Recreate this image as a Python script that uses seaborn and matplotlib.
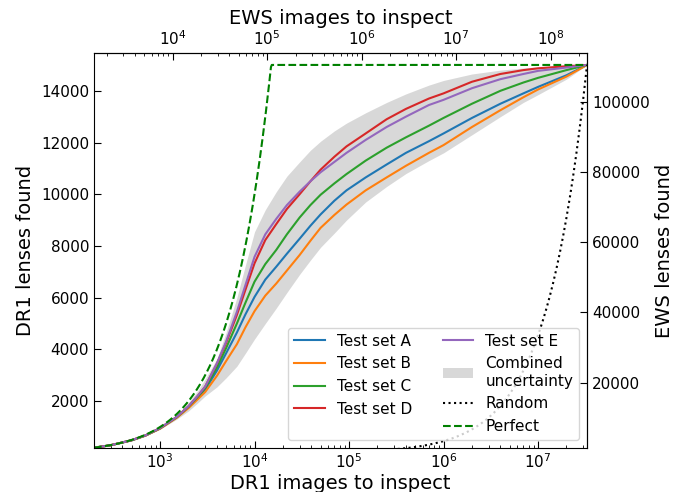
import numpy as np
import pandas as pd
import matplotlib
matplotlib.use("Agg")
import matplotlib.pyplot as plt
import seaborn as sns
from matplotlib.patches import Patch
from matplotlib.lines import Line2D

# Number of DR1 images inspected (ranked by classifier score)
images = [200, 300, 500, 700, 1000, 1500, 2000, 2500, 3000, 4000, 5000, 6500,
          8000, 1e4, 1.3e4, 1.7e4, 2.2e4, 3e4, 3.9e4, 5e4, 7e4, 9.4e4, 1.5e5,
          2.5e5, 4e5, 7e5, 1e6, 2e6, 4e6, 7e6, 1e7, 2e7, 3.3e7]

# Cumulative DR1 lenses found for each test set
set_a = [200, 295, 485, 670, 945, 1370, 1765, 2130, 2440, 3180, 3850, 4650,
         5350, 6030, 6700, 7200, 7700, 8280, 8780, 9220, 9750, 10150, 10650,
         11150, 11600, 12050, 12350, 12950, 13500, 13900, 14150, 14600, 15000]
set_b = [200, 295, 485, 665, 935, 1355, 1730, 2070, 2350, 2980, 3550, 4200,
         4850, 5480, 6080, 6550, 7050, 7650, 8200, 8700, 9200, 9600, 10150,
         10650, 11100, 11600, 11900, 12600, 13250, 13750, 14050, 14550, 15000]
set_c = [200, 295, 485, 670, 950, 1380, 1780, 2165, 2500, 3300, 4050, 5000,
         5800, 6620, 7300, 7850, 8450, 9100, 9580, 9980, 10420, 10780, 11300,
         11800, 12200, 12650, 12950, 13500, 14000, 14320, 14500, 14800, 15000]
set_d = [200, 295, 490, 675, 960, 1390, 1800, 2200, 2560, 3450, 4250, 5330,
         6300, 7330, 8230, 8850, 9430, 10000, 10500, 10950, 11450, 11850, 12350,
         12900, 13300, 13700, 13900, 14350, 14650, 14800, 14870, 14950, 15000]
set_e = [200, 295, 490, 675, 960, 1390, 1800, 2200, 2560, 3460, 4300, 5450,
         6480, 7580, 8450, 9050, 9580, 10100, 10500, 10850, 11250, 11600, 12100,
         12600, 13000, 13450, 13650, 14100, 14450, 14650, 14770, 14900, 15000]

# Envelope of the combined uncertainty
band_hi = [205, 305, 495, 690, 990, 1450, 1950, 2400, 2850, 3650, 4650, 6000,
           7250, 8550, 9400, 10100, 10700, 11250, 11700, 12050, 12450, 12750,
           13150, 13550, 13880, 14220, 14400, 14650, 14800, 14880, 14920, 14980,
           15000]
band_lo = [195, 290, 475, 650, 910, 1300, 1620, 1930, 2200, 2550, 2900, 3350,
           3850, 4400, 5000, 5600, 6200, 6900, 7450, 7950, 8500, 9000, 9700,
           10300, 10800, 11300, 11600, 12300, 13000, 13550, 13850, 14450, 15000]

set_names = ["Test set A", "Test set B", "Test set C", "Test set D", "Test set E"]
set_values = [set_a, set_b, set_c, set_d, set_e]
set_colors = ["#1f77b4", "#ff7f0e", "#2ca02c", "#d62728", "#9467bd"]

N_LENSES = 15000          # lenses in DR1
N_IMAGES = 3.3e7          # images in DR1
EWS_SCALE = 14000 / 1900  # EWS / DR1 area ratio

df = pd.DataFrame({
    "images": np.tile(images, len(set_names)),
    "lenses": np.concatenate(set_values),
    "set": np.repeat(set_names, len(images)),
})

fig = plt.figure(figsize=(6.82, 4.92), dpi=100)
ax = fig.add_axes([94 / 682, 1 - 447.7 / 492, (587 - 94) / 682, (447.7 - 53.3) / 492])

ax.fill_between(images, band_lo, band_hi, color="gray", alpha=0.3, linewidth=0)
sns.lineplot(data=df, x="images", y="lenses", hue="set", hue_order=set_names,
             palette=set_colors, estimator=None, linewidth=1.5, legend=False, ax=ax)

# Reference curves: random ordering and a perfect classifier
x_ref = np.geomspace(200, N_IMAGES, 600)
ax.plot(x_ref, x_ref * N_LENSES / N_IMAGES, color="black", linestyle=":", linewidth=1.5)
ax.plot(x_ref, np.minimum(x_ref, N_LENSES), color="green", linestyle="--", linewidth=1.5)

ax.set_xscale("log")
ax.set_xlim(200, N_IMAGES)
ax.set_ylim(200, 15450)
ax.set_xlabel("DR1 images to inspect", fontsize=14, labelpad=2)
ax.set_ylabel("DR1 lenses found", fontsize=14)
ax.tick_params(which="both", direction="in", labelsize=11)
ax.tick_params(which="major", length=5)
ax.tick_params(which="minor", length=2.5)

secx = ax.secondary_xaxis("top", functions=(lambda x: x * EWS_SCALE,
                                             lambda x: x / EWS_SCALE))
secx.set_xticks([1e4, 1e5, 1e6, 1e7, 1e8])
secx.set_xlabel("EWS images to inspect", fontsize=14)
secx.tick_params(which="both", direction="in", labelsize=11)
secx.tick_params(which="major", length=5)
secx.tick_params(which="minor", length=2.5)

secy = ax.secondary_yaxis("right", functions=(lambda y: y * EWS_SCALE,
                                               lambda y: y / EWS_SCALE))
secy.set_yticks([20000, 40000, 60000, 80000, 100000])
secy.set_ylabel("EWS lenses found", fontsize=14)
secy.tick_params(which="both", direction="in", labelsize=11)
secy.tick_params(which="major", length=5)

handles = [Line2D([], [], color=c, linewidth=1.5) for c in set_colors]
handles += [Patch(facecolor="gray", alpha=0.3, linewidth=0),
            Line2D([], [], color="black", linestyle=":", linewidth=1.5),
            Line2D([], [], color="green", linestyle="--", linewidth=1.5)]
labels = set_names + ["Combined\nuncertainty", "Random", "Perfect"]
ax.legend(handles, labels, loc="lower right", ncol=2, fontsize=11)

fig.savefig("out.png", dpi=100)
